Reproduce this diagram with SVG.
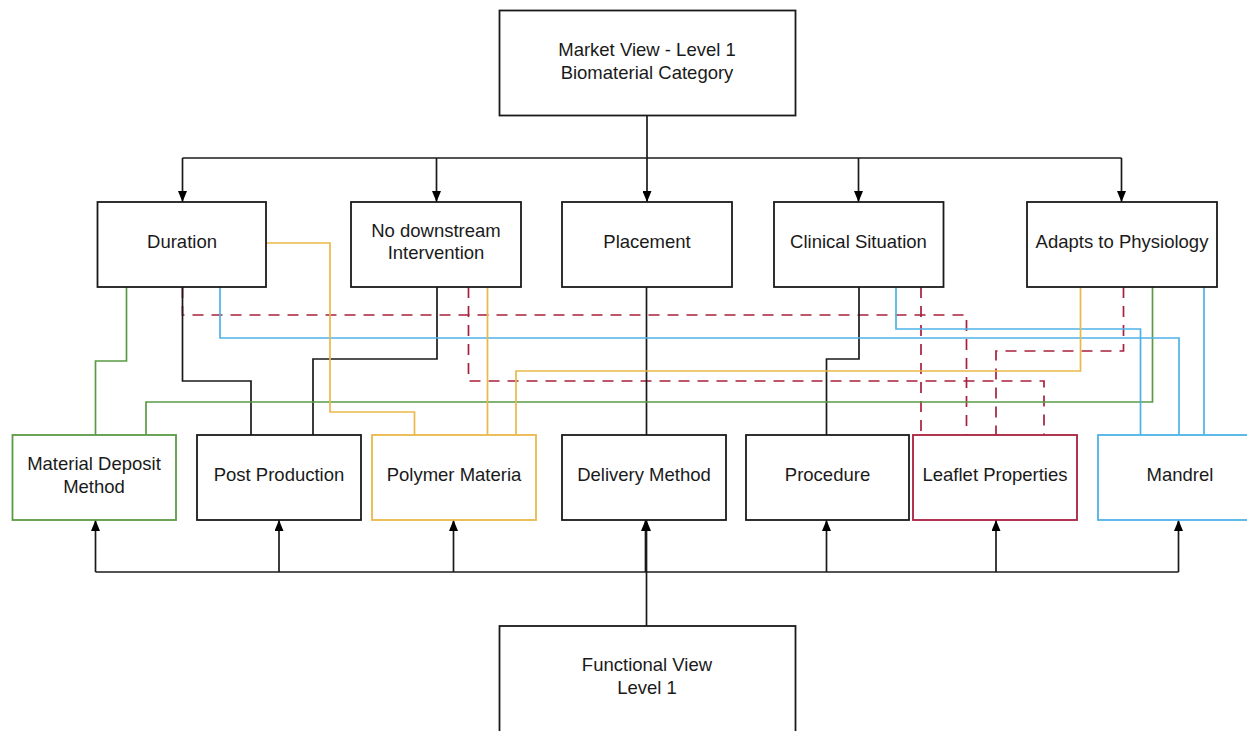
<svg xmlns="http://www.w3.org/2000/svg" width="1247" height="731" viewBox="0 0 1247 731">
<style>
.box{fill:#fff;stroke:#1a1a1a;stroke-width:1.8}
.g{stroke:#5b9a45}
.y{stroke:#e9b84a}
.b{stroke:#4db3e6}
.r{stroke:#a8203d}
.t{font-family:"Liberation Sans",Arial,sans-serif;font-size:18.5px;fill:#1a1a1a;text-anchor:middle}
.ln{fill:none;stroke-width:1.7}
.k{stroke:#1a1a1a}
.d{stroke-dasharray:11 8}
</style>
<defs>
<marker id="ah" viewBox="0 0 11 9" refX="11" refY="4.5" markerWidth="11" markerHeight="9" orient="auto" markerUnits="userSpaceOnUse">
<path d="M0,0 L11,4.5 L0,9 z" fill="#000"/>
</marker>
</defs>
<g id="connectors">
<path class="ln k" d="M647,116 V158"/>
<path class="ln k" d="M182.5,158 H1121.5"/>
<path class="ln k" d="M182.5,158 V202" marker-end="url(#ah)"/>
<path class="ln k" d="M436.5,158 V202" marker-end="url(#ah)"/>
<path class="ln k" d="M647,158 V202" marker-end="url(#ah)"/>
<path class="ln k" d="M858.5,158 V202" marker-end="url(#ah)"/>
<path class="ln k" d="M1121.5,158 V202" marker-end="url(#ah)"/>
<path class="ln k" d="M95.5,572 H1178.5"/>
<path class="ln k" d="M95.5,572 V520" marker-end="url(#ah)"/>
<path class="ln k" d="M279,572 V520" marker-end="url(#ah)"/>
<path class="ln k" d="M453.5,572 V520" marker-end="url(#ah)"/>
<path class="ln k" d="M645.5,572 V520" marker-end="url(#ah)"/>
<path class="ln k" d="M826.5,572 V520" marker-end="url(#ah)"/>
<path class="ln k" d="M996,572 V520" marker-end="url(#ah)"/>
<path class="ln k" d="M1178.5,572 V520" marker-end="url(#ah)"/>
<path class="ln k" d="M646.5,626 V520" marker-end="url(#ah)" stroke-width="2.2"/>
<path class="ln r d" d="M182.5,287 V315 H966.5 V435"/>
<path class="ln r d" d="M468.5,287 V381 H1044 V435"/>
<path class="ln r d" d="M921,287 V435"/>
<path class="ln r d" d="M1123.5,287 V351 H996 V435"/>
<path class="ln k" d="M182.5,287 V381 H251 V435"/>
<path class="ln k" d="M437,287 V359 H313 V435"/>
<path class="ln k" d="M646.5,287 V435"/>
<path class="ln k" d="M859,287 V359 H826.5 V435"/>
<path class="ln g" d="M126.5,287 V361 H95.5 V435"/>
<path class="ln g" d="M1152.5,287 V402 H146 V435"/>
<path class="ln b" d="M220,287 V338 H1179 V435"/>
<path class="ln b" d="M896,287 V329 H1140.5 V435"/>
<path class="ln b" d="M1204,287 V435"/>
<path class="ln y" d="M266,243 H330 V412 H414.5 V435"/>
<path class="ln y" d="M487.5,287 V435"/>
<path class="ln y" d="M1080.5,287 V371 H516 V435"/>
</g>
<g id="market-view">
<rect class="box" x="499.5" y="10.5" width="296" height="105"/>
<text class="t" x="647" y="56">Market View - Level 1</text>
<text class="t" x="647" y="79">Biomaterial Category</text>
</g>
<g id="duration">
<rect class="box" x="97.5" y="202" width="168.5" height="85"/>
<text class="t" x="182" y="248">Duration</text>
</g>
<g id="no-downstream">
<rect class="box" x="351" y="202" width="170" height="85"/>
<text class="t" x="436" y="236.5">No downstream</text>
<text class="t" x="436" y="259">Intervention</text>
</g>
<g id="placement">
<rect class="box" x="562" y="202" width="170" height="85"/>
<text class="t" x="647" y="248">Placement</text>
</g>
<g id="clinical-situation">
<rect class="box" x="774" y="202" width="169.5" height="85"/>
<text class="t" x="858.5" y="248">Clinical Situation</text>
</g>
<g id="adapts-to-physiology">
<rect class="box" x="1027" y="202" width="190" height="85"/>
<text class="t" x="1122" y="248">Adapts to Physiology</text>
</g>
<g id="material-deposit-method">
<rect class="box g" x="12.5" y="435" width="163.5" height="85"/>
<text class="t" x="94" y="470">Material Deposit</text>
<text class="t" x="94" y="493">Method</text>
</g>
<g id="post-production">
<rect class="box" x="197" y="435" width="164" height="85"/>
<text class="t" x="279" y="481">Post Production</text>
</g>
<g id="polymer-material">
<rect class="box y" x="372" y="435" width="164" height="85"/>
<text class="t" x="454" y="481">Polymer Materia</text>
</g>
<g id="delivery-method">
<rect class="box" x="562" y="435" width="164" height="85"/>
<text class="t" x="644" y="481">Delivery Method</text>
</g>
<g id="procedure">
<rect class="box" x="746" y="435" width="163" height="85"/>
<text class="t" x="827.5" y="481">Procedure</text>
</g>
<g id="leaflet-properties">
<rect class="box r" x="913" y="435" width="164" height="85"/>
<text class="t" x="995" y="481">Leaflet Properties</text>
</g>
<g id="mandrel">
<rect class="box b" x="1098" y="435" width="164" height="85"/>
<text class="t" x="1180" y="481">Mandrel</text>
</g>
<g id="functional-view">
<rect class="box" x="499.5" y="626" width="296" height="120"/>
<text class="t" x="647" y="671">Functional View</text>
<text class="t" x="647" y="694">Level 1</text>
</g>
</svg>
